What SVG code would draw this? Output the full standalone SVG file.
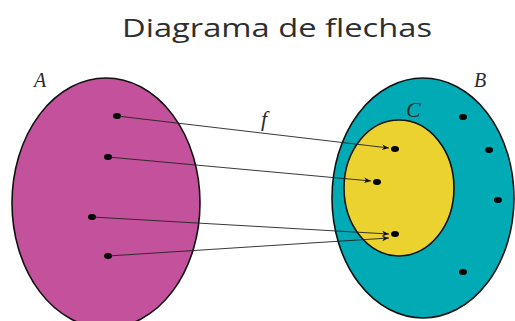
<svg xmlns="http://www.w3.org/2000/svg" width="515" height="321" viewBox="0 0 515 321">
<style>
.set{stroke:#111;stroke-width:1.6}
.dot{fill:#000}
.lbl{font-family:"Liberation Serif",serif;font-style:italic;fill:#2a2a2a}
.conn{stroke:#222;stroke-width:0.9;fill:none;marker-end:url(#ah)}
</style>
<defs>
<marker id="ah" viewBox="0 0 10 10" refX="10" refY="5" markerWidth="7" markerHeight="7" markerUnits="userSpaceOnUse" orient="auto">
<path d="M0,1 L10,5 L0,9 L3,5 Z" fill="#111"/>
</marker>
</defs>
<rect width="515" height="321" fill="#fff"/>
<text x="122" y="37" textLength="310" lengthAdjust="spacingAndGlyphs" font-family="Open Sans, sans-serif" font-size="25" font-weight="500" fill="#2e2e2e">Diagrama de flechas</text>
<g id="setA">
<ellipse class="set" cx="106" cy="203" rx="94" ry="125" fill="#c4519b"/>
<text class="lbl" x="34" y="87" font-size="20">A</text>
<ellipse class="dot" cx="117" cy="116" rx="4" ry="3"/>
<ellipse class="dot" cx="108" cy="157" rx="4" ry="3"/>
<ellipse class="dot" cx="92" cy="217" rx="4" ry="3"/>
<ellipse class="dot" cx="108" cy="256" rx="4" ry="3"/>
</g>
<g id="setB">
<ellipse class="set" cx="423" cy="198" rx="91" ry="120" fill="#00abb6"/>
<text class="lbl" x="474" y="87" font-size="20">B</text>
<ellipse class="dot" cx="463" cy="117" rx="4" ry="3"/>
<ellipse class="dot" cx="489" cy="150" rx="4" ry="3"/>
<ellipse class="dot" cx="498" cy="200" rx="4" ry="3"/>
<ellipse class="dot" cx="463" cy="272" rx="4" ry="3"/>
</g>
<g id="setC">
<ellipse class="set" cx="399" cy="188" rx="55" ry="68" fill="#ebd22f"/>
<text class="lbl" x="406" y="117" font-size="22">C</text>
<ellipse class="dot" cx="395" cy="149" rx="4" ry="3"/>
<ellipse class="dot" cx="377" cy="182" rx="4" ry="3"/>
<ellipse class="dot" cx="395" cy="234" rx="4" ry="3"/>
</g>
<g id="connectors">
<line class="conn" x1="117" y1="116" x2="389" y2="148"/>
<line class="conn" x1="108" y1="157" x2="371" y2="181"/>
<line class="conn" x1="92" y1="217" x2="389" y2="234"/>
<line class="conn" x1="108" y1="256" x2="389" y2="238"/>
<text class="lbl" x="261" y="126" font-size="22">f</text>
</g>
</svg>
